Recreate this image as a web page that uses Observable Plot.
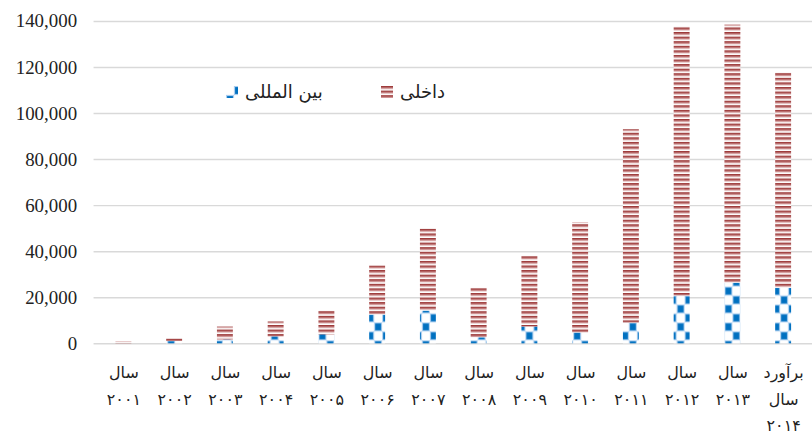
<!DOCTYPE html>
<html>
<head>
<meta charset="utf-8">
<script src="https://cdn.jsdelivr.net/npm/d3@7"></script>
<script src="https://cdn.jsdelivr.net/npm/@observablehq/plot@0.6"></script>
<style>
  html, body { margin: 0; padding: 0; background: #fff; overflow: hidden; }
  #wrap { position: relative; width: 812px; height: 432px; overflow: hidden; }
  .legend { position: absolute; top: 81px; font-family: "DejaVu Sans", sans-serif; font-size: 18px; color: #222; display: flex; align-items: center; gap: 7px; direction: ltr; }
  .legend svg { display: block; }
</style>
</head>
<body>
<div id="wrap"></div>
<script>
// Year labels (two lines each; the last bar is an estimate)
const categories = [
  "سال\n۲۰۰۱", "سال\n۲۰۰۲", "سال\n۲۰۰۳", "سال\n۲۰۰۴", "سال\n۲۰۰۵",
  "سال\n۲۰۰۶", "سال\n۲۰۰۷", "سال\n۲۰۰۸", "سال\n۲۰۰۹", "سال\n۲۰۱۰",
  "سال\n۲۰۱۱", "سال\n۲۰۱۲", "سال\n۲۰۱۳", "برآورد\nسال\n۲۰۱۴"
];
// International (bottom segment)
const international = [0, 1000, 1700, 3000, 3900, 12500, 14200, 2600, 7300, 4700, 9000, 20700, 26300, 24100];
// Domestic (top segment)
const domestic = [900, 1200, 5600, 6500, 10300, 21300, 35800, 21500, 30700, 47900, 84000, 116800, 112100, 93600];
const seriesNames = ["بین المللی", "داخلی"];
const yTicks = [0, 20000, 40000, 60000, 80000, 100000, 120000, 140000];

const rows = [];
categories.forEach((c, i) => rows.push({cat: c, type: seriesNames[0], value: international[i]}));
categories.forEach((c, i) => rows.push({cat: c, type: seriesNames[1], value: domestic[i]}));

const fills = ["url(#pat-intl)", "url(#pat-dom)"];

const chart = Plot.plot({
  width: 816,
  height: 432,
  marginLeft: 94,
  marginRight: 0,
  marginTop: 21,
  marginBottom: 87,
  style: {background: "transparent", overflow: "visible"},
  x: {domain: categories, paddingInner: 0.69, paddingOuter: 0.345},
  y: {domain: [0, 140000], axis: null},
  color: {type: "ordinal", domain: seriesNames, range: fills},
  marks: [
    Plot.gridY(yTicks, {stroke: "#d9d9d9", strokeOpacity: 1, strokeWidth: 1.5}),
    Plot.barY(rows, {x: "cat", y: "value", fill: "type", order: seriesNames}),
    // value labels on the left, set in a serif face
    Plot.text(yTicks, {
      y: d => d, text: d3.format(","), frameAnchor: "left", textAnchor: "end",
      dx: -17, fontSize: 19, fontFamily: "Liberation Serif", fill: "#222"
    }),
    Plot.axisX({
      tickSize: 0, tickPadding: 16, label: null, fontSize: 16, lineHeight: 1.65,
      fontFamily: "DejaVu Sans", fill: "#222"
    })
  ]
});

// Fill patterns for the two series
const defs = `
<defs>
  <pattern id="pat-dom" patternUnits="userSpaceOnUse" width="8" height="4.6">
    <rect x="0" y="0" width="8" height="4.6" fill="#ffffff"/>
    <rect x="0" y="0" width="8" height="1.7" fill="#9e3a3a"/>
    <rect x="0" y="1.7" width="8" height="1.3" fill="#cf9494"/>
  </pattern>
  <pattern id="pat-intl" patternUnits="userSpaceOnUse" width="16" height="18">
    <rect x="0" y="0" width="16" height="18" fill="#ffffff"/>
    <rect x="8.5" y="0.5" width="7" height="8" fill="#0070c0" stroke="#a9cdef" stroke-width="1.2"/>
    <rect x="0.5" y="9.5" width="7" height="8" fill="#0070c0" stroke="#a9cdef" stroke-width="1.2"/>
  </pattern>
</defs>`;
chart.insertAdjacentHTML("afterbegin", defs);

const wrap = document.getElementById("wrap");
wrap.appendChild(chart);

// In-plot legend
function legendItem(name, fill, left) {
  const div = document.createElement("div");
  div.className = "legend";
  div.style.left = left + "px";
  div.innerHTML = `<svg width="12" height="12"><rect width="12" height="12" fill="${fill}"/></svg><span dir="rtl">${name}</span>`;
  wrap.appendChild(div);
}
legendItem(seriesNames[0], fills[0], 226);
legendItem(seriesNames[1], fills[1], 381);
</script>
</body>
</html>
